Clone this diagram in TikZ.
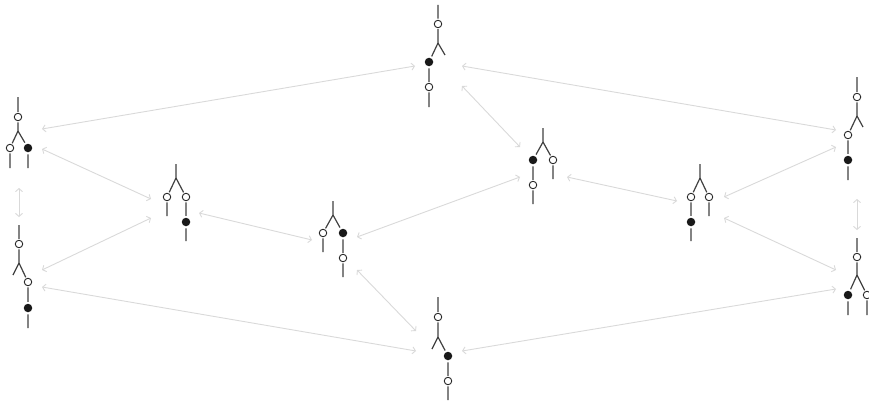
\documentclass[tikz,border=0pt]{standalone}
\usetikzlibrary{arrows.meta}
\begin{document}
\begin{tikzpicture}[
        x=1pt, y=-1pt,
        wire/.style={draw=black!75, line width=1.2pt},
        unit/.style={draw=black!85, fill=white, circle, inner sep=0pt, minimum size=7.5pt, line width=0.9pt, outer sep=1.5pt},
        counit/.style={fill=black!90, circle, inner sep=0pt, minimum size=8.5pt, outer sep=2pt},
        rel/.style={draw=black!15, line width=0.9pt, {Straight Barb[length=3pt,width=7pt]}-{Straight Barb[length=3pt,width=7pt]}},
    ]
    \useasboundingbox (0,0) rectangle (869,404);

    % a: top
    \coordinate (a0) at (438,5);
    \node[unit] (a1) at (438,24) {};
    \coordinate (a2) at (438,43);
    \node[counit] (a3) at (429,62) {};
    \node[unit] (a4) at (429,87) {};
    \coordinate (a5) at (429,107);
    \coordinate (a6) at (445,55);
    \draw[wire] (a0) -- (a1) -- (a2) -- (a3) -- (a4) -- (a5);
    \draw[wire] (a2) -- (a6);

    % b: left, upper
    \coordinate (b0) at (18,97);
    \node[unit] (b1) at (18,117) {};
    \coordinate (b2) at (18,131);
    \node[unit] (b3) at (10,148) {};
    \node[counit] (b4) at (28,148) {};
    \coordinate (b5) at (10,168);
    \coordinate (b6) at (28,168);
    \draw[wire] (b0) -- (b1) -- (b2) -- (b3) -- (b5);
    \draw[wire] (b2) -- (b4) -- (b6);

    % c: left, lower
    \coordinate (c0) at (19,225);
    \node[unit] (c1) at (19,244) {};
    \coordinate (c2) at (19,263);
    \node[unit] (c3) at (28,282) {};
    \node[counit] (c4) at (28,308) {};
    \coordinate (c5) at (28,328);
    \coordinate (c6) at (13,275);
    \draw[wire] (c0) -- (c1) -- (c2) -- (c3) -- (c4) -- (c5);
    \draw[wire] (c2) -- (c6);

    % d
    \coordinate (d0) at (176,164);
    \coordinate (d2) at (176,178);
    \node[unit] (d3) at (167,197) {};
    \node[unit] (d4) at (186,197) {};
    \node[counit] (d5) at (186,222) {};
    \coordinate (d6) at (167,216);
    \coordinate (d7) at (186,241);
    \draw[wire] (d0) -- (d2) -- (d3) -- (d6);
    \draw[wire] (d2) -- (d4) -- (d5) -- (d7);

    % e
    \coordinate (e0) at (333,201);
    \coordinate (e2) at (333,215);
    \node[unit] (e3) at (323,233) {};
    \node[counit] (e4) at (343,233) {};
    \node[unit] (e5) at (343,258) {};
    \coordinate (e6) at (323,252);
    \coordinate (e7) at (343,277);
    \draw[wire] (e0) -- (e2) -- (e3) -- (e6);
    \draw[wire] (e2) -- (e4) -- (e5) -- (e7);

    % f: bottom
    \coordinate (f0) at (438,297);
    \node[unit] (f1) at (438,317) {};
    \coordinate (f2) at (438,337);
    \node[counit] (f3) at (448,356) {};
    \node[unit] (f4) at (448,381) {};
    \coordinate (f5) at (448,400);
    \coordinate (f6) at (432,349);
    \draw[wire] (f0) -- (f1) -- (f2) -- (f3) -- (f4) -- (f5);
    \draw[wire] (f2) -- (f6);

    % g
    \coordinate (g0) at (543,128);
    \coordinate (g2) at (543,142);
    \node[counit] (g3) at (533,160) {};
    \node[unit] (g4) at (553,160) {};
    \node[unit] (g5) at (533,185) {};
    \coordinate (g6) at (533,204);
    \coordinate (g7) at (553,179);
    \draw[wire] (g0) -- (g2) -- (g3) -- (g5) -- (g6);
    \draw[wire] (g2) -- (g4) -- (g7);

    % h
    \coordinate (h0) at (700,164);
    \coordinate (h2) at (700,178);
    \node[unit] (h3) at (691,197) {};
    \node[unit] (h4) at (709,197) {};
    \node[counit] (h5) at (691,222) {};
    \coordinate (h6) at (691,241);
    \coordinate (h7) at (709,216);
    \draw[wire] (h0) -- (h2) -- (h3) -- (h5) -- (h6);
    \draw[wire] (h2) -- (h4) -- (h7);

    % i: right, upper
    \coordinate (i0) at (857,77);
    \node[unit] (i1) at (857,97) {};
    \coordinate (i2) at (857,116);
    \node[unit] (i3) at (848,135) {};
    \node[counit] (i4) at (848,160) {};
    \coordinate (i5) at (848,180);
    \coordinate (i6) at (863,127);
    \draw[wire] (i0) -- (i1) -- (i2) -- (i3) -- (i4) -- (i5);
    \draw[wire] (i2) -- (i6);

    % j: right, lower
    \coordinate (j0) at (857,238);
    \node[unit] (j1) at (857,257) {};
    \coordinate (j2) at (857,275);
    \node[counit] (j3) at (848,295) {};
    \node[unit] (j4) at (867,295) {};
    \coordinate (j5) at (848,315);
    \coordinate (j6) at (867,315);
    \draw[wire] (j0) -- (j1) -- (j2) -- (j3) -- (j5);
    \draw[wire] (j2) -- (j4) -- (j6);

    % arrow ends
    \coordinate (ab) at (415,66);  \coordinate (ba) at (42,129);
    \coordinate (ai) at (462,66);  \coordinate (ia) at (836,130);
    \coordinate (ag) at (462,86);  \coordinate (ga) at (520,147);
    \coordinate (bd) at (42,149);  \coordinate (db) at (151,199);
    \coordinate (bc) at (19,188);  \coordinate (cb) at (19,217);
    \coordinate (cd) at (42,270);  \coordinate (dc) at (151,218);
    \coordinate (cf) at (42,287);  \coordinate (fc) at (416,351);
    \coordinate (de) at (199,213); \coordinate (ed) at (312,240);
    \coordinate (eg) at (357,237); \coordinate (ge) at (520,177);
    \coordinate (ef) at (357,270); \coordinate (fe) at (416,331);
    \coordinate (gh) at (567,177); \coordinate (hg) at (677,201);
    \coordinate (hi) at (724,197); \coordinate (ih) at (836,147);
    \coordinate (hj) at (724,218); \coordinate (jh) at (836,270);
    \coordinate (ij) at (857,199); \coordinate (ji) at (857,230);
    \coordinate (fj) at (462,351); \coordinate (jf) at (836,289);

    \foreach \u/\v in {a/b, a/i, a/g, b/d, b/c, c/d, c/f, d/e, e/g, e/f, g/h, h/i, h/j, i/j, f/j}
        \draw[rel] (\u\v) -- (\v\u);
\end{tikzpicture}
\end{document}
